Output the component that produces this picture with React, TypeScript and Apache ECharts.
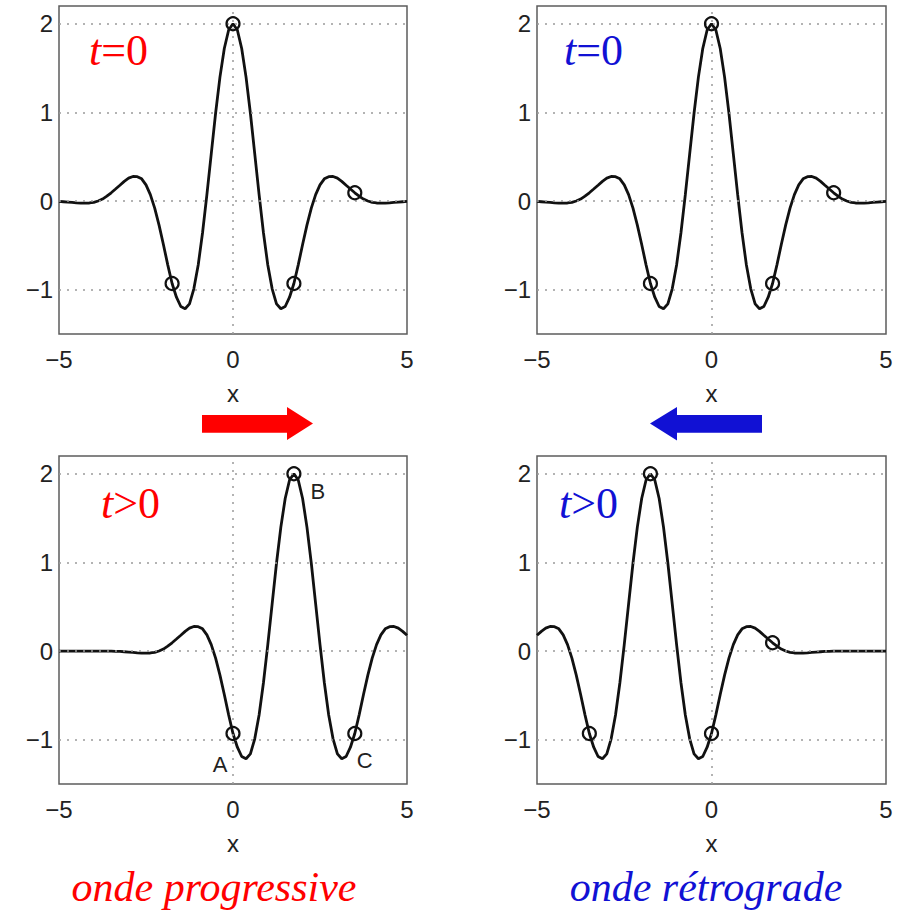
import React, { useEffect, useRef } from "react";
import * as echarts from "echarts";

// sample positions along x
const xValues = [-5,-4.875,-4.75,-4.625,-4.5,-4.375,-4.25,-4.125,-4,-3.875,-3.75,-3.625,-3.5,-3.375,-3.25,-3.125,-3,-2.875,-2.75,-2.625,-2.5,-2.375,-2.25,-2.125,-2,-1.875,-1.75,-1.625,-1.5,-1.375,-1.25,-1.125,-1,-0.875,-0.75,-0.625,-0.5,-0.375,-0.25,-0.125,0,0.125,0.25,0.375,0.5,0.625,0.75,0.875,1,1.125,1.25,1.375,1.5,1.625,1.75,1.875,2,2.125,2.25,2.375,2.5,2.625,2.75,2.875,3,3.125,3.25,3.375,3.5,3.625,3.75,3.875,4,4.125,4.25,4.375,4.5,4.625,4.75,4.875,5];

// t = 0 (both upper panels)
const waveT0 = [-0.005,-0.008,-0.012,-0.016,-0.020,-0.023,-0.024,-0.022,-0.015,0.000,0.022,0.055,0.093,0.135,0.178,0.222,0.258,0.277,0.275,0.250,0.182,0.072,-0.080,-0.272,-0.490,-0.720,-0.930,-1.085,-1.190,-1.215,-1.160,-0.990,-0.722,-0.358,0.072,0.533,0.990,1.398,1.721,1.929,2.000,1.929,1.721,1.398,0.990,0.533,0.072,-0.358,-0.722,-0.990,-1.160,-1.215,-1.190,-1.085,-0.930,-0.720,-0.490,-0.272,-0.080,0.072,0.182,0.250,0.275,0.277,0.258,0.222,0.178,0.135,0.093,0.055,0.022,0.000,-0.015,-0.022,-0.024,-0.023,-0.020,-0.016,-0.012,-0.008,-0.005];

// t > 0, onde progressive
const waveProg = [0,0,0,0,0,0,0,0,0,0,0,0,0,-0.003,-0.005,-0.008,-0.012,-0.016,-0.020,-0.023,-0.024,-0.022,-0.015,0.000,0.022,0.055,0.093,0.135,0.178,0.222,0.258,0.277,0.275,0.250,0.182,0.072,-0.080,-0.272,-0.490,-0.720,-0.930,-1.085,-1.190,-1.215,-1.160,-0.990,-0.722,-0.358,0.072,0.533,0.990,1.398,1.721,1.929,2.000,1.929,1.721,1.398,0.990,0.533,0.072,-0.358,-0.722,-0.990,-1.160,-1.215,-1.190,-1.085,-0.930,-0.720,-0.490,-0.272,-0.080,0.072,0.182,0.250,0.275,0.277,0.258,0.222,0.178];

// t > 0, onde rétrograde
const waveRetro = [0.178,0.222,0.258,0.277,0.275,0.250,0.182,0.072,-0.080,-0.272,-0.490,-0.720,-0.930,-1.085,-1.190,-1.215,-1.160,-0.990,-0.722,-0.358,0.072,0.533,0.990,1.398,1.721,1.929,2.000,1.929,1.721,1.398,0.990,0.533,0.072,-0.358,-0.722,-0.990,-1.160,-1.215,-1.190,-1.085,-0.930,-0.720,-0.490,-0.272,-0.080,0.072,0.182,0.250,0.275,0.277,0.258,0.222,0.178,0.135,0.093,0.055,0.022,0.000,-0.015,-0.022,-0.024,-0.023,-0.020,-0.016,-0.012,-0.008,-0.005,-0.003,0,0,0,0,0,0,0,0,0,0,0,0,0];

// circled points
const pointsT0 = [[0, 2], [-1.75, -0.93], [1.75, -0.93], [3.5, 0.093]];
const pointsProg = [[0, -0.93], [1.75, 2], [3.5, -0.93]];
const pointsProgLabels = ["A", "B", "C"];
const pointsRetro = [[-3.5, -0.93], [-1.75, 2], [0, -0.93], [1.75, 0.093]];

const yGridValues = [2, 1, 0, -1];
const xGridValues = [0];

const RED = "#ff0000";
const BLUE = "#1111d4";

export default function App() {
  const ref = useRef<HTMLDivElement>(null);
  useEffect(() => {
    if (!ref.current) return;
    const chart = echarts.init(ref.current, null, { renderer: "svg" });

    const grids = [
      { left: 59, top: 6, width: 348, height: 328 },
      { left: 537, top: 6, width: 349, height: 328 },
      { left: 59, top: 456, width: 348, height: 328 },
      { left: 537, top: 456, width: 349, height: 328 },
    ];
    const waves = [waveT0, waveT0, waveProg, waveRetro];
    const pts = [pointsT0, pointsT0, pointsProg, pointsRetro];

    const fmt = (v: number) => {
      if (Math.abs(v - Math.round(v)) > 1e-6) return "";
      const r = Math.round(v);
      return r < 0 ? "\u2212" + Math.abs(r) : String(r);
    };
    const labelStyle = { color: "#222", fontSize: 24, fontFamily: "Liberation Sans" };

    const series: any[] = [];
    grids.forEach((_, i) => {
      series.push({
        type: "line",
        xAxisIndex: i,
        yAxisIndex: i,
        data: [[-5, 0]],
        symbol: "none",
        lineStyle: { opacity: 0 },
        silent: true,
        z: 1,
        markLine: {
          silent: true,
          symbol: ["none", "none"],
          label: { show: false },
          lineStyle: { type: [2, 6], color: "#9a9a9a", width: 1.5 },
          data: [
            ...yGridValues.map((v) => ({ yAxis: v })),
            ...xGridValues.map((v) => ({ xAxis: v })),
          ],
        },
      });
      series.push({
        type: "line",
        xAxisIndex: i,
        yAxisIndex: i,
        data: xValues.map((x, k) => [x, waves[i][k]]),
        showSymbol: false,
        symbol: "none",
        lineStyle: { color: "#111", width: 2.8 },
        z: 3,
      });
      const labelOffsets: Record<string, number[]> = { A: [-13, 31], B: [24, 18], C: [10, 27] };
      series.push({
        type: "scatter",
        xAxisIndex: i,
        yAxisIndex: i,
        symbol: "circle",
        symbolSize: 13,
        itemStyle: { color: "rgba(0,0,0,0)", borderColor: "#111", borderWidth: 2.2, opacity: 1 },
        z: 5,
        data: pts[i].map((p, k) => {
          const item: any = { value: p };
          if (i === 2) {
            const name = pointsProgLabels[k];
            item.label = {
              show: true,
              formatter: name,
              position: "inside",
              offset: labelOffsets[name],
              color: "#222",
              fontSize: 22,
              fontFamily: "Liberation Sans",
            };
          }
          return item;
        }),
      });
    });

    const richT = (color: string, rest: string) => ({
      text: "{i|t}{n|" + rest + "}",
      fill: color,
      verticalAlign: "middle",
      align: "left",
      rich: {
        i: { fontStyle: "italic", fontFamily: "Liberation Serif", fontSize: 44, fill: color, color },
        n: { fontFamily: "Liberation Serif", fontSize: 44, fill: color, color },
      },
    });

    chart.setOption({
      animation: false,
      backgroundColor: "#fff",
      grid: grids.map((g) => ({
        ...g,
        show: true,
        borderColor: "#5c5c5c",
        borderWidth: 1.5,
        backgroundColor: "#fff",
      })),
      xAxis: grids.map((_, i) => ({
        type: "value",
        gridIndex: i,
        min: -5,
        max: 5,
        interval: 5,
        name: "x",
        nameLocation: "middle",
        nameGap: 47,
        nameTextStyle: { ...labelStyle },
        axisLine: { show: false },
        axisTick: { show: false },
        splitLine: { show: false },
        axisLabel: { ...labelStyle, margin: 13, formatter: fmt },
      })),
      yAxis: grids.map((_, i) => ({
        type: "value",
        gridIndex: i,
        min: -1.5,
        max: 2.2,
        interval: 0.5,
        axisLine: { show: false },
        axisTick: { show: false },
        splitLine: { show: false },
        axisLabel: { ...labelStyle, margin: 6, formatter: fmt, showMaxLabel: false },
      })),
      series,
      graphic: [
        { type: "text", x: 89, y: 50, style: richT(RED, "=0") },
        { type: "text", x: 564, y: 50, style: richT(BLUE, "=0") },
        { type: "text", x: 101, y: 503, style: richT(RED, ">0") },
        { type: "text", x: 559, y: 503, style: richT(BLUE, ">0") },
        {
          type: "polygon",
          shape: { points: [[202, 415], [287, 415], [287, 407], [313, 423.5], [287, 440], [287, 432.7], [202, 432.7]] },
          style: { fill: RED },
        },
        {
          type: "polygon",
          shape: { points: [[762, 415], [677, 415], [677, 407], [650, 423.5], [677, 440.5], [677, 432.7], [762, 432.7]] },
          style: { fill: BLUE },
        },
        {
          type: "text",
          x: 214,
          y: 887,
          style: {
            text: "onde progressive",
            fill: RED,
            font: "italic 42px 'Liberation Serif'",
            align: "center",
            verticalAlign: "middle",
          },
        },
        {
          type: "text",
          x: 706,
          y: 887,
          style: {
            text: "onde rétrograde",
            fill: BLUE,
            font: "italic 42px 'Liberation Serif'",
            align: "center",
            verticalAlign: "middle",
          },
        },
      ],
    });
    return () => chart.dispose();
  }, []);
  return (
    <div
      ref={ref}
      style={{ position: "absolute", left: 0, top: 0, width: 902, height: 911, background: "#fff" }}
    />
  );
}
